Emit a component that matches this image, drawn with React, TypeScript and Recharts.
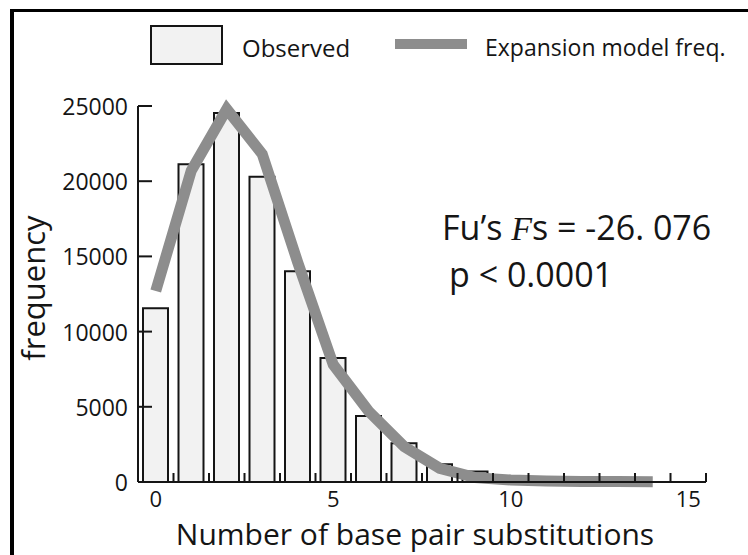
import React from 'react';
import { ComposedChart, Bar, Line, XAxis, YAxis } from 'recharts';

// number of base pair substitutions (x categories)
const substitutions = [0, 1, 2, 3, 4, 5, 6, 7, 8, 9, 10, 11, 12, 13, 14];
// observed frequency per bin
const observed = [11560, 21130, 24540, 20290, 14020, 8250, 4390, 2570, 1180, 690, 180, 100, 100, 40, null];
// expansion model frequency
const expansionModel = [12700, 20700, 24800, 21800, 14600, 7800, 4700, 2350, 910, 290, 130, 60, 40, 30, 20];

const xTicks = [0, 1, 2, 3, 4, 5, 6, 7, 8, 9, 10, 11, 12, 13, 14, 15];
const xLabelTicks = [0, 5, 10, 15];
const yTicks = [0, 5000, 10000, 15000, 20000, 25000];

const data = substitutions.map((s, i) => ({
  x: s,
  observed: observed[i],
  model: expansionModel[i],
}));

const W = 748;
const H = 555;
const AXIS_X = 138;
const AXIS_Y = 482;
const PLOT_W = 568;
const HALF = PLOT_W / 16 / 2;
const FONT = '"Open Sans", sans-serif';
const INK = '#151515';
const GREY = '#8d8d8d';

const YTick = (props: any) => {
  const { y, payload } = props;
  return (
    <g>
      <line x1={AXIS_X} x2={AXIS_X + 14} y1={y} y2={y} stroke={INK} strokeWidth={2} />
      <text
        x={AXIS_X - 10}
        y={y}
        textAnchor="end"
        dominantBaseline="central"
        fontFamily={FONT}
        fontSize={23}
        fill={INK}
      >
        {payload.value}
      </text>
    </g>
  );
};

const XTick = (props: any) => {
  const { x, payload } = props;
  const v = payload.value;
  return (
    <g>
      <line x1={x + HALF} x2={x + HALF} y1={AXIS_Y} y2={AXIS_Y - 9} stroke={INK} strokeWidth={2} />
      {xLabelTicks.includes(v) && (
        <text x={x} y={AXIS_Y + 25} textAnchor="middle" fontFamily={FONT} fontSize={22} fill={INK}>
          {v}
        </text>
      )}
    </g>
  );
};

export default function App() {
  return (
    <div style={{ position: 'absolute', left: 0, top: 0, width: W, height: H, background: '#fff' }}>
      <ComposedChart
        width={W}
        height={H}
        data={data}
        margin={{ top: 106, right: W - AXIS_X - PLOT_W, bottom: H - AXIS_Y - 30, left: AXIS_X - 60 }}
      >
        <XAxis
          dataKey="x"
          type="number"
          domain={[-0.5, 15.5]}
          ticks={xTicks}
          interval={0}
          height={30}
          tickLine={false}
          axisLine={{ stroke: INK, strokeWidth: 2 }}
          tick={<XTick />}
        />
        <YAxis
          type="number"
          domain={[0, 25000]}
          ticks={yTicks}
          interval={0}
          width={60}
          tickLine={false}
          axisLine={{ stroke: INK, strokeWidth: 2 }}
          tick={<YTick />}
        />
        <Bar
          dataKey="observed"
          barSize={25}
          fill="#f2f2f2"
          stroke={INK}
          strokeWidth={2}
          isAnimationActive={false}
        />
        <Line
          dataKey="model"
          type="linear"
          stroke={GREY}
          strokeWidth={11}
          dot={false}
          activeDot={false}
          isAnimationActive={false}
        />
      </ComposedChart>
      <svg
        width={W}
        height={H}
        style={{ position: 'absolute', left: 0, top: 0, pointerEvents: 'none' }}
        fontFamily={FONT}
      >
        {/* frame */}
        <line x1={10} x2={W} y1={10.5} y2={10.5} stroke="#000" strokeWidth={3} />
        <line x1={12} x2={12} y1={9} y2={H} stroke="#000" strokeWidth={4} />

        {/* legend */}
        <rect x={151} y={26} width={71} height={38} fill="#f2f2f2" stroke={INK} strokeWidth={2} />
        <text x={242} y={57} fontSize={24} fill={INK}>Observed</text>
        <line x1={395} x2={467} y1={44} y2={44} stroke={GREY} strokeWidth={10} />
        <text x={485} y={56} fontSize={23} fill={INK}>Expansion model freq.</text>

        {/* annotation */}
        <text x={442} y={240} fontSize={34} fill={INK}>
          Fu’s{' '}
          <tspan fontFamily='"Liberation Serif", serif' fontStyle="italic">F</tspan>
          s = -26. 076
        </text>
        <text x={449} y={287} fontSize={34} fill={INK}>p &lt; 0.0001</text>

        {/* axis titles */}
        <text x={415} y={545} textAnchor="middle" fontSize={30} fill={INK}>
          Number of base pair substitutions
        </text>
        <text x={45} y={288} textAnchor="middle" fontSize={31} fill={INK} transform="rotate(-90 45 288)">
          frequency
        </text>
      </svg>
    </div>
  );
}
